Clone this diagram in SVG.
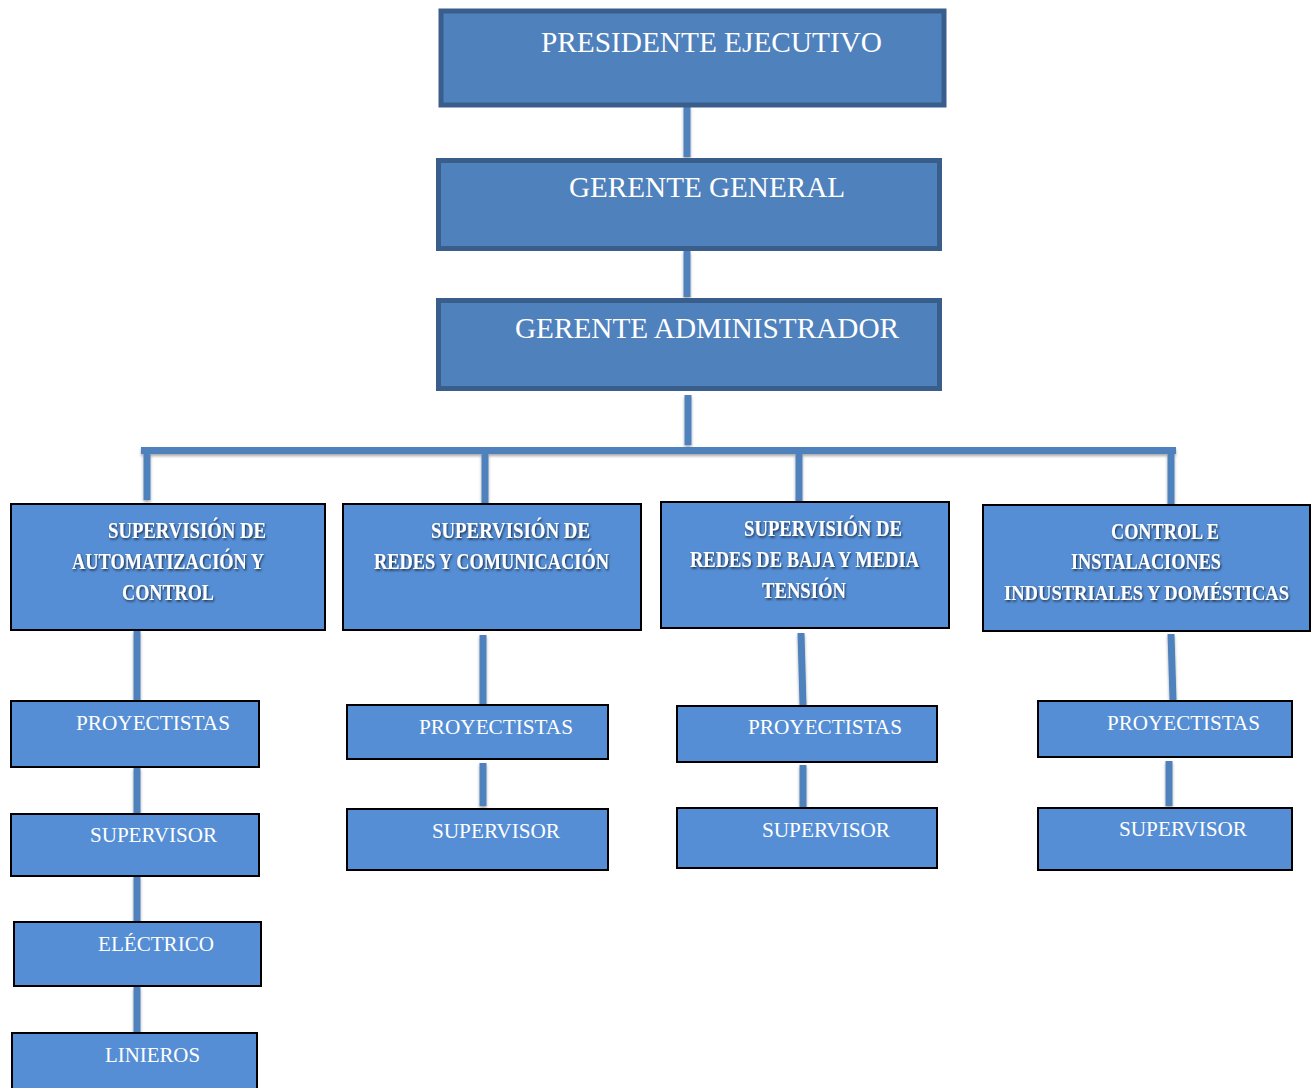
<svg xmlns="http://www.w3.org/2000/svg" width="1316" height="1088" viewBox="0 0 1316 1088">
  <defs>
    <filter id="lineShadow" x="-50%" y="-20%" width="200%" height="140%">
      <feDropShadow dx="0" dy="2" stdDeviation="1.5" flood-color="#000" flood-opacity="0.35"/>
    </filter>
    <filter id="textShadow" filterUnits="userSpaceOnUse" x="0" y="480" width="1316" height="160">
      <feDropShadow dx="1" dy="1.5" stdDeviation="1.2" flood-color="#000" flood-opacity="0.7"/>
    </filter>
  </defs>
  <style>
    .top { fill: #4f81bd; stroke: #395e8c; stroke-width: 5; }
    .box { fill: #558ed5; stroke: #000; stroke-width: 2; }
    .conn { stroke: #4f81bd; stroke-width: 7; fill: none; stroke-linecap: butt; }
    .t1 { font-family: "Liberation Serif", "Times New Roman", serif; font-size: 30px; fill: #fff; }
    .t2 { font-family: "Liberation Serif", "Times New Roman", serif; font-size: 21px; fill: #fff; }
    .tb { font-family: "Liberation Serif", "Times New Roman", serif; font-size: 23px; font-weight: bold; fill: #fff; }
    .tb.long { font-size: 21px; }
  </style>

  <rect width="1316" height="1088" fill="#fff"/>

  <!-- connectors -->
  <g id="connectors" class="conn" filter="url(#lineShadow)">
    <line x1="687" y1="106" x2="687" y2="157"/>
    <line x1="687" y1="251" x2="687" y2="297"/>
    <line x1="688" y1="395" x2="688" y2="445"/>
    <line x1="141" y1="450.5" x2="1176" y2="450.5"/>
    <line x1="147" y1="454" x2="147" y2="500"/>
    <line x1="485" y1="454" x2="485" y2="503"/>
    <line x1="799" y1="454" x2="799" y2="501"/>
    <line x1="1171" y1="454" x2="1171" y2="504"/>
    <line x1="137" y1="631" x2="137" y2="700"/>
    <line x1="137" y1="768" x2="137" y2="813"/>
    <line x1="137" y1="876" x2="137" y2="921"/>
    <line x1="137" y1="987" x2="137" y2="1032"/>
    <line x1="483" y1="635" x2="483" y2="704"/>
    <line x1="483" y1="763" x2="483" y2="806"/>
    <line x1="801" y1="633" x2="803" y2="705"/>
    <line x1="803" y1="765" x2="803" y2="807"/>
    <line x1="1171" y1="634" x2="1173" y2="700"/>
    <line x1="1169" y1="761" x2="1169" y2="806"/>
  </g>

  <!-- top chain -->
  <g id="presidente">
    <rect class="top" x="441" y="11" width="503" height="94"/>
    <text class="t1" x="541" y="52" textLength="341" lengthAdjust="spacingAndGlyphs">PRESIDENTE EJECUTIVO</text>
  </g>
  <g id="gerente-general">
    <rect class="top" x="438.5" y="160.5" width="501" height="88"/>
    <text class="t1" x="569" y="197" textLength="276" lengthAdjust="spacingAndGlyphs">GERENTE GENERAL</text>
  </g>
  <g id="gerente-administrador">
    <rect class="top" x="438.5" y="300.5" width="501" height="88"/>
    <text class="t1" x="515" y="338" textLength="384" lengthAdjust="spacingAndGlyphs">GERENTE ADMINISTRADOR</text>
  </g>

  <!-- supervision areas -->
  <g id="sup-automatizacion">
    <rect class="box" x="11" y="504" width="314" height="126"/>
    <g filter="url(#textShadow)">
      <text class="tb" x="108" y="538" textLength="158" lengthAdjust="spacingAndGlyphs">SUPERVISIÓN DE</text>
      <text class="tb" x="72" y="569" textLength="192" lengthAdjust="spacingAndGlyphs">AUTOMATIZACIÓN Y</text>
      <text class="tb" x="122" y="600" textLength="92" lengthAdjust="spacingAndGlyphs">CONTROL</text>
    </g>
  </g>
  <g id="sup-redes-comunicacion">
    <rect class="box" x="343" y="504" width="298" height="126"/>
    <g filter="url(#textShadow)">
      <text class="tb" x="431" y="538" textLength="159" lengthAdjust="spacingAndGlyphs">SUPERVISIÓN DE</text>
      <text class="tb" x="374" y="569" textLength="235" lengthAdjust="spacingAndGlyphs">REDES Y COMUNICACIÓN</text>
    </g>
  </g>
  <g id="sup-baja-media">
    <rect class="box" x="661" y="502" width="288" height="126"/>
    <g filter="url(#textShadow)">
      <text class="tb" x="744" y="536" textLength="158" lengthAdjust="spacingAndGlyphs">SUPERVISIÓN DE</text>
      <text class="tb" x="690" y="567" textLength="229" lengthAdjust="spacingAndGlyphs">REDES DE BAJA Y MEDIA</text>
      <text class="tb" x="762" y="598" textLength="84" lengthAdjust="spacingAndGlyphs">TENSIÓN</text>
    </g>
  </g>
  <g id="control-instalaciones">
    <rect class="box" x="983" y="505" width="327" height="126"/>
    <g filter="url(#textShadow)">
      <text class="tb" x="1111" y="539" textLength="108" lengthAdjust="spacingAndGlyphs">CONTROL E</text>
      <text class="tb" x="1071" y="569" textLength="150" lengthAdjust="spacingAndGlyphs">INSTALACIONES</text>
      <text class="tb long" x="1004" y="600" textLength="285" lengthAdjust="spacingAndGlyphs">INDUSTRIALES Y DOMÉSTICAS</text>
    </g>
  </g>

  <!-- column A -->
  <g id="a-proyectistas">
    <rect class="box" x="11" y="701" width="248" height="66"/>
    <text class="t2" x="76" y="730" textLength="154" lengthAdjust="spacingAndGlyphs">PROYECTISTAS</text>
  </g>
  <g id="a-supervisor">
    <rect class="box" x="11" y="814" width="248" height="62"/>
    <text class="t2" x="90" y="842" textLength="127" lengthAdjust="spacingAndGlyphs">SUPERVISOR</text>
  </g>
  <g id="a-electrico">
    <rect class="box" x="14" y="922" width="247" height="64"/>
    <text class="t2" x="98" y="951" textLength="116" lengthAdjust="spacingAndGlyphs">ELÉCTRICO</text>
  </g>
  <g id="a-linieros">
    <rect class="box" x="12" y="1033" width="245" height="70"/>
    <text class="t2" x="105" y="1062" textLength="95" lengthAdjust="spacingAndGlyphs">LINIEROS</text>
  </g>

  <!-- column B -->
  <g id="b-proyectistas">
    <rect class="box" x="347" y="705" width="261" height="54"/>
    <text class="t2" x="419" y="734" textLength="154" lengthAdjust="spacingAndGlyphs">PROYECTISTAS</text>
  </g>
  <g id="b-supervisor">
    <rect class="box" x="347" y="809" width="261" height="61"/>
    <text class="t2" x="432" y="838" textLength="128" lengthAdjust="spacingAndGlyphs">SUPERVISOR</text>
  </g>

  <!-- column C -->
  <g id="c-proyectistas">
    <rect class="box" x="677" y="706" width="260" height="56"/>
    <text class="t2" x="748" y="734" textLength="154" lengthAdjust="spacingAndGlyphs">PROYECTISTAS</text>
  </g>
  <g id="c-supervisor">
    <rect class="box" x="677" y="808" width="260" height="60"/>
    <text class="t2" x="762" y="837" textLength="128" lengthAdjust="spacingAndGlyphs">SUPERVISOR</text>
  </g>

  <!-- column D -->
  <g id="d-proyectistas">
    <rect class="box" x="1038" y="701" width="254" height="56"/>
    <text class="t2" x="1107" y="730" textLength="153" lengthAdjust="spacingAndGlyphs">PROYECTISTAS</text>
  </g>
  <g id="d-supervisor">
    <rect class="box" x="1038" y="808" width="254" height="62"/>
    <text class="t2" x="1119" y="836" textLength="128" lengthAdjust="spacingAndGlyphs">SUPERVISOR</text>
  </g>
</svg>
